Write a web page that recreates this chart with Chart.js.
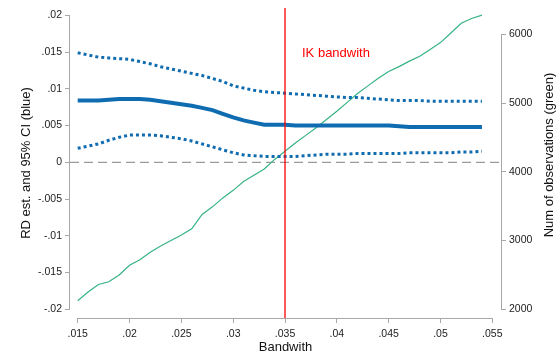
<!DOCTYPE html>
<html>
<head>
<meta charset="utf-8">
<script src="https://cdn.jsdelivr.net/npm/chart.js@4.4.0/dist/chart.umd.min.js"></script>
<style>
  html, body { margin: 0; padding: 0; background: #fff; }
</style>
</head>
<body>
<canvas id="rdChart" width="559" height="358"></canvas>
<script>
// values
const bandwidth = [.015, .016, .017, .018, .019, .020, .021, .022, .023, .024,
                   .025, .026, .027, .028, .029, .030, .031, .032, .033, .034,
                   .035, .036, .037, .038, .039, .040, .041, .042, .043, .044,
                   .045, .046, .047, .048, .049, .050, .051, .052, .053, .054];
const estimate  = [.0084, .0084, .0084, .0085, .0086, .0086, .0086, .0085, .0083, .0081,
                   .0079, .0077, .0074, .0071, .0066, .0061, .0057, .0054, .0051, .0051,
                   .0051, .0050, .0050, .0050, .0050, .0050, .0050, .0050, .0050, .0050,
                   .0050, .0049, .0048, .0048, .0048, .0048, .0048, .0048, .0048, .0048];
const ciUpper   = [.0149, .0146, .0143, .0142, .0141, .0140, .0137, .0134, .0130, .0127,
                   .0124, .0121, .0118, .0114, .0110, .0104, .0101, .0098, .0096, .0095,
                   .0094, .0093, .0092, .0091, .0090, .0089, .0088, .0088, .0087, .0086,
                   .0085, .0084, .0084, .0084, .0083, .0083, .0083, .0083, .0083, .0083];
const ciLower   = [.0019, .0022, .0025, .0030, .0034, .0037, .0037, .0037, .0036, .0034,
                   .0032, .0029, .0025, .0021, .0017, .0013, .0010, .0009, .0008, .0008,
                   .0008, .0008, .0009, .0010, .0011, .0011, .0011, .0012, .0012, .0012,
                   .0012, .0012, .0013, .0013, .0013, .0013, .0013, .0014, .0014, .0015];
const numObs    = [2125, 2250, 2360, 2400, 2500, 2640, 2720, 2830, 2920, 3000,
                   3080, 3170, 3380, 3490, 3620, 3730, 3860, 3950, 4040, 4180,
                   4300, 4420, 4530, 4640, 4760, 4880, 5010, 5140, 5250, 5360,
                   5460, 5530, 5610, 5680, 5780, 5880, 6020, 6160, 6230, 6280];
const ikBandwidth = .035;

const xTicks = [.015, .02, .025, .03, .035, .04, .045, .05, .055];
const xTickLabels = ['.015', '.02', '.025', '.03', '.035', '.04', '.045', '.05', '.055'];
const yTicks = [.02, .015, .01, .005, 0, -.005, -.01, -.015, -.02];
const yTickLabels = ['.02', '.015', '.01', '.005', '0', '-.005', '-.01', '-.015', '-.02'];
const obsTicks = [6000, 5000, 4000, 3000, 2000];
const obsTickLabels = ['6000', '5000', '4000', '3000', '2000'];

// scale ranges (plot region is a bit wider than the tick range, as in Stata)
const X_MIN = .014257, X_MAX = .055839;
const Y_MIN = -.02118, Y_MAX = .02099;
const N_MIN = 1873, N_MAX = 6383;

const BLUE = '#0f6cb0';
const GREEN = '#35b383';
const RED = '#ff0000';
const AXIS = '#a8a8a8';
const FONT = 'Liberation Sans, Arial, sans-serif';

const pts = ys => bandwidth.map((b, i) => ({ x: b, y: ys[i] }));

function setTicks(values) {
  return scale => { scale.ticks = values.map(v => ({ value: v })); };
}

// Stata-like axis lines that run only between the end ticks, plus text bits
const stataBits = {
  id: 'stataBits',
  afterDraw(chart) {
    const { ctx, scales } = chart;
    const x = scales.x, y = scales.y, n = scales.n;
    ctx.save();
    ctx.strokeStyle = AXIS;
    ctx.lineWidth = 1;
    ctx.beginPath();
    const xb = Math.round(x.top) + 0.5;
    ctx.moveTo(x.getPixelForValue(xTicks[0]), xb);
    ctx.lineTo(x.getPixelForValue(xTicks[xTicks.length - 1]), xb);
    const yl = Math.round(y.right) - 0.5;
    ctx.moveTo(yl, y.getPixelForValue(yTicks[0]));
    ctx.lineTo(yl, y.getPixelForValue(yTicks[yTicks.length - 1]));
    const nr = Math.round(n.left) + 0.5;
    ctx.moveTo(nr, n.getPixelForValue(obsTicks[0]));
    ctx.lineTo(nr, n.getPixelForValue(obsTicks[obsTicks.length - 1]));
    ctx.stroke();

    // right axis title, read bottom to top like the left one
    ctx.fillStyle = '#111';
    ctx.font = '13px ' + FONT;
    ctx.textAlign = 'center';
    ctx.textBaseline = 'middle';
    ctx.translate(549, 155);
    ctx.rotate(-Math.PI / 2);
    ctx.fillText('Num of observations (green)', 0, 0);
    ctx.restore();

    ctx.save();
    ctx.fillStyle = RED;
    ctx.font = '13px ' + FONT;
    ctx.textAlign = 'left';
    ctx.textBaseline = 'middle';
    ctx.fillText('IK bandwith', x.getPixelForValue(ikBandwidth) + 17, 53);
    ctx.restore();
  }
};

const tickFont = { family: FONT, size: 10.5 };
const titleFont = { family: FONT, size: 13 };

new Chart(document.getElementById('rdChart'), {
  type: 'line',
  data: {
    datasets: [
      { data: [{ x: ikBandwidth, y: Y_MIN }, { x: ikBandwidth, y: Y_MAX }],
        borderColor: RED, borderWidth: 1.3, yAxisID: 'y', order: 0 },
      { data: pts(estimate), borderColor: BLUE, borderWidth: 4, yAxisID: 'y', order: 1 },
      { data: pts(ciUpper), borderColor: BLUE, borderWidth: 3, borderDash: [3, 3], yAxisID: 'y', order: 2 },
      { data: pts(ciLower), borderColor: BLUE, borderWidth: 3, borderDash: [3, 3], yAxisID: 'y', order: 3 },
      { data: pts(numObs), borderColor: GREEN, borderWidth: 1.2, yAxisID: 'n', order: 4 },
      { data: [{ x: X_MIN, y: 0 }, { x: X_MAX, y: 0 }],
        borderColor: '#9a9a9a', borderWidth: 1.2, borderDash: [9, 5], yAxisID: 'y', order: 5 }
    ]
  },
  options: {
    responsive: false,
    animation: false,
    layout: { padding: { top: 8, left: 0, right: 0, bottom: 0 } },
    elements: { point: { radius: 0 }, line: { tension: 0, borderCapStyle: 'butt' } },
    plugins: { legend: { display: false }, tooltip: { enabled: false } },
    scales: {
      x: {
        type: 'linear', min: X_MIN, max: X_MAX,
        afterBuildTicks: setTicks(xTicks),
        afterFit: s => { s.height = 40; s.paddingLeft = 0; s.paddingRight = 0; },
        grid: { drawOnChartArea: false, tickLength: 5, color: AXIS },
        border: { display: false },
        ticks: { font: tickFont, color: '#222', padding: 5, maxRotation: 0,
                 callback: (v, i) => xTickLabels[i] },
        title: { display: true, text: 'Bandwith', font: titleFont, color: '#111',
                 padding: { top: 0, bottom: 3 } }
      },
      y: {
        type: 'linear', position: 'left', min: Y_MIN, max: Y_MAX,
        afterBuildTicks: setTicks(yTicks),
        afterFit: s => { s.width = 70; s.paddingTop = 0; s.paddingBottom = 0; },
        grid: { drawOnChartArea: false, tickLength: 5, color: AXIS },
        border: { display: false },
        ticks: { font: tickFont, color: '#222', padding: 3,
                 callback: (v, i) => yTickLabels[i] },
        title: { display: true, text: 'RD est. and 95% CI (blue)', font: titleFont, color: '#111',
                 padding: { top: 19, bottom: 0 } }
      },
      n: {
        type: 'linear', position: 'right', min: N_MIN, max: N_MAX,
        afterBuildTicks: setTicks(obsTicks),
        afterFit: s => { s.width = 58; s.paddingTop = 0; s.paddingBottom = 0; },
        grid: { drawOnChartArea: false, tickLength: 5, color: AXIS },
        border: { display: false },
        ticks: { font: tickFont, color: '#222', padding: 3,
                 callback: (v, i) => obsTickLabels[i] }
      }
    }
  },
  plugins: [stataBits]
});
</script>
</body>
</html>
